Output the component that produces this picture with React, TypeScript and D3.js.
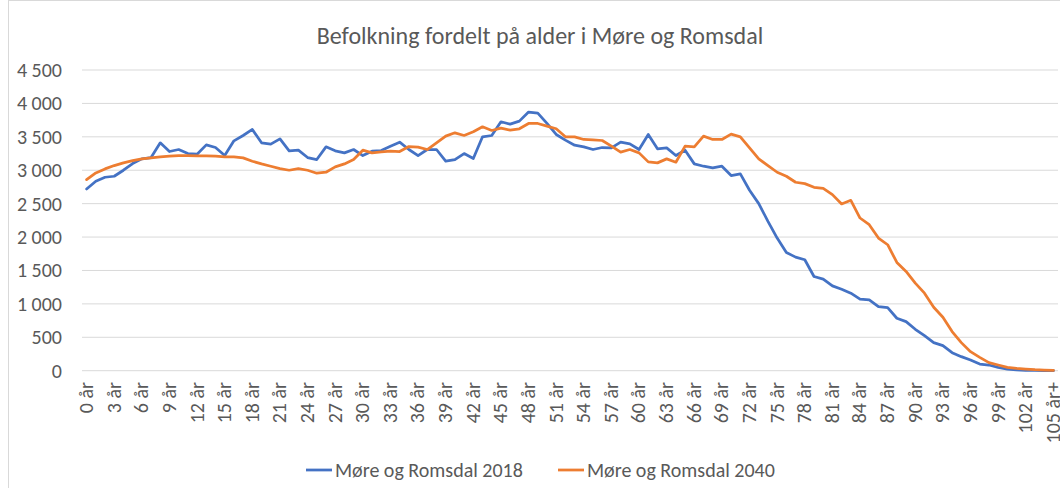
import React from "react";
import * as d3 from "d3";

const ages: string[] = Array.from({ length: 106 }, (_, i) => (i === 105 ? "105 år+" : `${i} år`));

const series2018: number[] = [
  2720, 2835, 2895, 2910, 3000, 3100, 3170, 3190, 3410, 3280,
  3310, 3250, 3240, 3380, 3340, 3220, 3440, 3520, 3610, 3410,
  3390, 3470, 3290, 3300, 3190, 3160, 3350, 3290, 3260, 3310,
  3220, 3285, 3295, 3360, 3420, 3310, 3220, 3310, 3310, 3135,
  3160, 3250, 3175, 3500, 3520, 3725, 3690, 3735, 3870, 3855,
  3700, 3535, 3450, 3375, 3350, 3310, 3340, 3335, 3420, 3395,
  3310, 3535, 3320, 3335, 3220, 3300, 3095, 3060, 3035, 3060,
  2920, 2945, 2700, 2500, 2235, 1985, 1770, 1700, 1660, 1410,
  1370, 1270, 1220, 1160, 1070, 1060, 960, 945, 785, 735,
  620, 525, 420, 375, 270, 210, 160, 100, 85, 50,
  25, 12, 6, 3, 1, 1,
];

const series2040: number[] = [
  2860, 2960, 3020, 3070, 3110, 3145, 3170, 3185, 3200, 3210,
  3220, 3220, 3215, 3215, 3210, 3200, 3200, 3185, 3135, 3095,
  3060, 3025, 3000, 3025, 3000, 2955, 2970, 3050, 3095, 3160,
  3300, 3260, 3275, 3285, 3280, 3355, 3345, 3310, 3410, 3510,
  3560, 3520, 3575, 3650, 3595, 3630, 3600, 3620, 3700, 3700,
  3660, 3620, 3500, 3500, 3460, 3455, 3445, 3360, 3270, 3310,
  3260, 3125, 3110, 3170, 3120, 3360, 3350, 3510, 3460, 3460,
  3540, 3500, 3335, 3170, 3070, 2970, 2910, 2820, 2800, 2745,
  2730, 2635, 2495, 2550, 2285, 2185, 1985, 1885, 1620, 1485,
  1310, 1160, 950, 800, 585, 420, 285, 200, 120, 85,
  50, 35, 25, 15, 10, 5,
];

const yTicks: number[] = [0, 500, 1000, 1500, 2000, 2500, 3000, 3500, 4000, 4500];
const seriesNames: string[] = ["Møre og Romsdal 2018", "Møre og Romsdal 2040"];
const colors: string[] = ["#4472C4", "#ED7D31"];
const title = "Befolkning fordelt på alder i Møre og Romsdal";

const W = 1060;
const H = 488;
const plot = { left: 82, right: 1058, top: 70, bottom: 370.7 };
const FONT = "Calibri, Carlito, 'Open Sans', 'Liberation Sans', sans-serif";
const TXT = "#595959";

const fmt = (v: number) => {
  const s = String(v);
  return s.length > 3 ? s.slice(0, s.length - 3) + " " + s.slice(-3) : s;
};

export default function App() {
  const x = d3.scaleBand<string>().domain(ages).range([plot.left, plot.right]).paddingInner(0).paddingOuter(0);
  const y = d3.scaleLinear().domain([0, 4500]).range([plot.bottom, plot.top]);
  const cx = (i: number) => (x(ages[i]) as number) + x.bandwidth() / 2;
  const line = d3
    .line<number>()
    .x((_, i) => cx(i))
    .y((d) => y(d));

  const data = [series2018, series2040];

  return (
    <svg width={W} height={H} style={{ position: "absolute", left: 0, top: 0, background: "#fff" }} fontFamily={FONT}>
      <rect x={0} y={0} width={W} height={H} fill="#fff" />
      <rect x={8.5} y={0.5} width={W + 10} height={H + 10} fill="none" stroke="#d9d9d9" strokeWidth={1} />
      <text x={540} y={44} textAnchor="middle" fontSize={24} fill={TXT}>
        {title}
      </text>
      {yTicks.map((t) => (
        <g key={t}>
          <line x1={plot.left} x2={plot.right} y1={y(t)} y2={y(t)} stroke="#d9d9d9" strokeWidth={1} />
          <text x={62} y={y(t)} dy="0.35em" textAnchor="end" fontSize={20} fill={TXT}>
            {fmt(t)}
          </text>
        </g>
      ))}
      {ages.map((a, i) =>
        i % 3 === 0 ? (
          <text
            key={a}
            transform={`translate(${cx(i)},${382}) rotate(-90)`}
            textAnchor="end"
            dy="0.32em"
            fontSize={20}
            fill={TXT}
          >
            {a}
          </text>
        ) : null
      )}
      {data.map((s, k) => (
        <path key={k} d={line(s) as string} fill="none" stroke={colors[k]} strokeWidth={2.75} strokeLinejoin="round" strokeLinecap="round" />
      ))}
      {seriesNames.map((n, k) => {
        const lx = k === 0 ? 306 : 558;
        return (
          <g key={n}>
            <line x1={lx} x2={lx + 26} y1={470} y2={470} stroke={colors[k]} strokeWidth={2.75} />
            <text x={lx + 29} y={470} dy="0.35em" fontSize={20} fill={TXT}>
              {n}
            </text>
          </g>
        );
      })}
    </svg>
  );
}
